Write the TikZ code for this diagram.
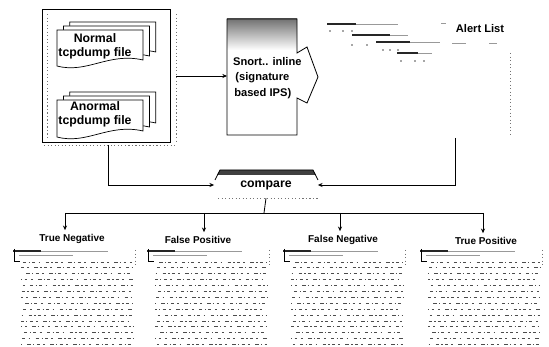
\documentclass[tikz,border=0pt]{standalone}
\usepackage{fontspec}
\setmainfont{Liberation Sans}
\usetikzlibrary{arrows.meta}
\tikzset{
  frame/.style={draw=black, line width=0.7pt},
  dotframe/.style={draw=black!55, line width=0.5pt, dash pattern=on 1pt off 2pt},
  doc/.style={draw=black, fill=white, line width=0.6pt},
  boxlabel/.style={font=\fontsize{9.5}{11.5}\selectfont\bfseries, align=center},
  doclabel/.style={font=\fontsize{10.5}{12}\selectfont\bfseries, align=center},
  caselabel/.style={font=\fontsize{8.5}{9}\selectfont\bfseries},
  flow/.style={draw=black, line width=0.7pt, -{Stealth[length=4pt,width=3.5pt]}},
  wire/.style={draw=black, line width=0.7pt},
  ink/.style={draw=black!85, line width=1pt},
  faint/.style={draw=black!40, line width=0.6pt},
  rowdots/.style={draw=black!70, line width=0.8pt, dash pattern=on 1pt off 2pt on 2.5pt off 3pt on 1.5pt off 4.5pt on 3pt off 2pt},
}
% one sheet with a wavy lower edge: x, y, width, height
\newcommand{\tcpdoc}[4]{%
  \draw[doc] (#1,#2) -- ({#1+#3},#2) -- ({#1+#3},{#2+#4-6})
    .. controls ({#1+0.6*#3},{#2+#4-14}) and ({#1+0.35*#3},{#2+#4+8}) .. (#1,{#2+#4}) -- cycle;}

\begin{document}
\begin{tikzpicture}[x=0.03cm, y=-0.03cm]
\useasboundingbox (0,0) rectangle (549,347);

% input files
\draw[frame] (42,9) rectangle (170,142);
\draw[dotframe] (47,14) -- (47,138);
\draw[dotframe] (176,14) -- (176,143);
\draw[dotframe] (44,145) -- (176,145);
\foreach \d in {8,4,0} {
  \tcpdoc{57+1.6*\d}{30-\d}{86}{36}
  \tcpdoc{57+1.6*\d}{100-\d}{86}{37}
}
\node[doclabel] (normal) at (95,46) {Normal\\tcpdump file};
\node[doclabel] (anormal) at (95,114) {Anormal\\tcpdump file};
\coordinate (srcR) at (176,76);
\coordinate (srcB) at (108,145);

% snort box
\shade[top color=black!55, bottom color=white] (227,19) rectangle (297,50);
\draw[frame] (227,19) -- (297,19) -- (297,53) -- (307,47) -- (318,77) -- (307,103)
  -- (297,98) -- (297,135) -- (227,135) -- cycle;
\node[boxlabel, font=\fontsize{9.5}{13}\selectfont\bfseries, align=left, anchor=west] (snort) at (229,78)
  {Snort.. inline\\\hspace{2pt}(signature\\\hspace{1pt}based IPS)};
\coordinate (snortL) at (227,76);
\draw[flow] (srcR) -- (snortL);

% alert list
\node[boxlabel] (alert) at (480,29) {Alert List};
\draw[ink] (327,24) -- (356,24);
\draw[faint] (356,24) -- (398,24) (441,23) -- (446,23);
\draw[ink] (352,35) -- (390,35);
\draw[faint] (390,35) -- (408,35);
\draw[ink] (376,42) -- (410,42);
\draw[faint] (410,42) -- (440,42) (452,43) -- (466,43) (489,43) -- (497,43);
\draw[ink] (397,53) -- (418,53);
\draw[faint] (418,53) -- (432,53);
\foreach \mx/\my in {330/31,343/31,352/31,352/45,367/45,383/50,390/50,398/50,401/61,415/61,424/61} {
  \fill[black!70] (\mx,\my) circle (0.9);
}
\draw[dotframe] (510,53) -- (510,135);
\coordinate (alertB) at (455,138);

% compare
\node[minimum width=3.1cm, minimum height=0.78cm, font=\fontsize{10.5}{12}\selectfont\bfseries] (cmp) at (266,185) {compare};
\fill[black!75] (220,170) -- (313,170) -- (316,175) -- (217,175) -- cycle;
\draw[wire] (215,180) -- (220,170) -- (313,170) -- (318,180);
\draw[dotframe] (218,198) -- (318,198);
\draw[flow] (srcB) |- (cmp.west);
\draw[flow] (alertB) |- (cmp.east);

% results
\coordinate (hub) at (264,213);
\coordinate (sTN) at (65,213);
\coordinate (sFP) at (204,213);
\coordinate (sFN) at (340,213);
\coordinate (sTP) at (483,213);
\node[caselabel] (tn) at (72,239) {True Negative};
\node[caselabel] (fp) at (198,240) {False Positive};
\node[caselabel] (fn) at (343,240) {False Negative};
\node[caselabel] (tp) at (486,241) {True Positive};
\draw[wire] (cmp.south) -- (hub);
\draw[wire] (sTN) -- (sTP);
\draw[flow] (sTN) -- (sTN |- tn.north);
\draw[flow] (sFP) -- (sFP |- fp.north);
\draw[flow] (sFN) -- (sFN |- fn.north);
\draw[flow] (sTP) -- (sTP |- tp.north);

% alert tables
\foreach \tx in {13,147,283,420} {
  \draw[ink] (\tx,251) -- (\tx+28,251);
  \draw[faint] (\tx+28,251) -- (\tx+95,251);
  \draw[faint] (\tx+6,255) -- (\tx+60,255);
  \draw[black, line width=0.8pt] (\tx+1,249) -- (\tx+1,261) -- (\tx+7,261);
  \draw[dotframe] (\tx+122,250) -- (\tx+122,265);
  \foreach \r in {0,...,14} {
    \pgfmathsetmacro\ph{mod(\r*7+\tx,17)}
    \draw[rowdots, dash phase=\ph pt] (\tx+8,262+\r*5.9) -- (\tx+120,262+\r*5.9);
  }
}
\end{tikzpicture}
\end{document}
